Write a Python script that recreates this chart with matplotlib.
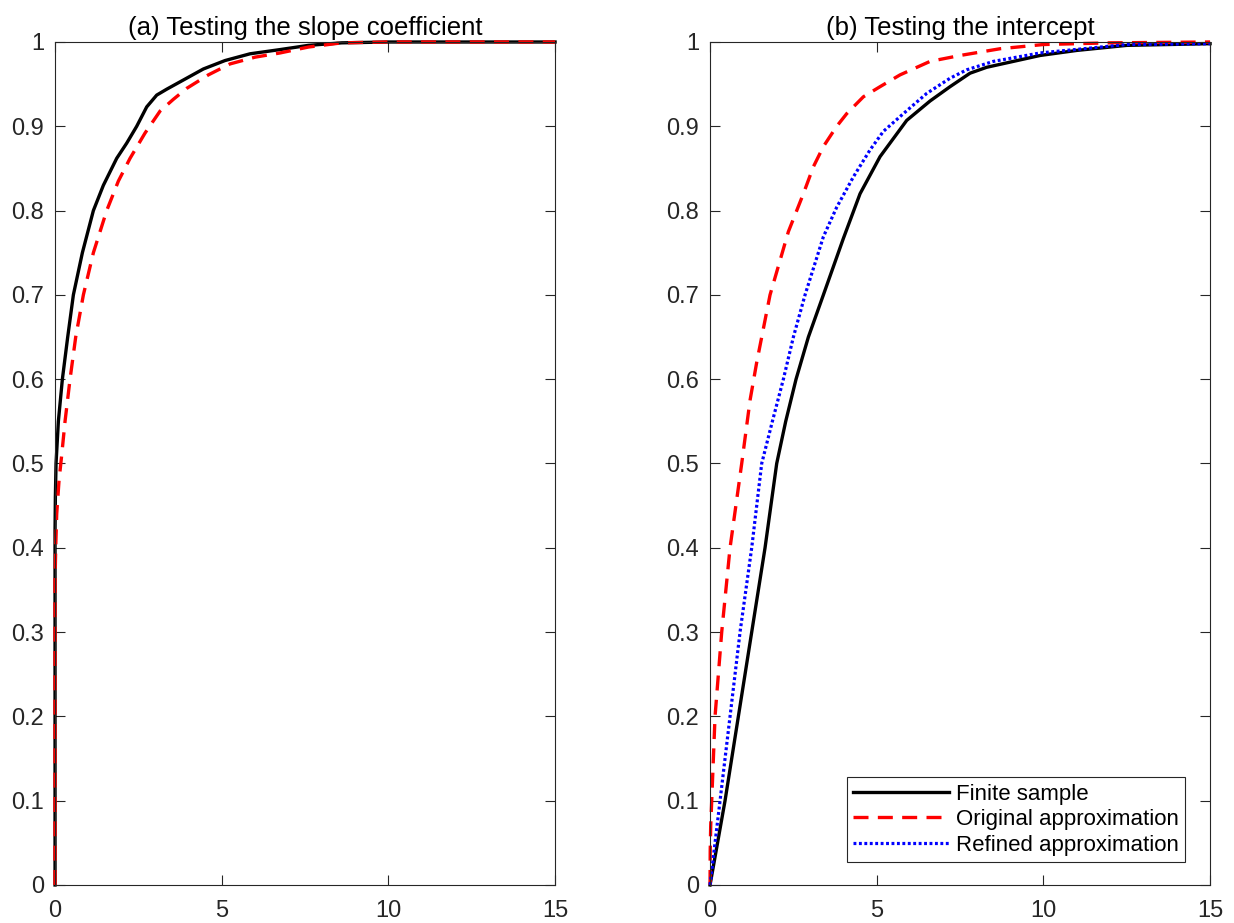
import matplotlib
matplotlib.use('Agg')
import matplotlib.pyplot as plt
import numpy as np

plt.rcParams['font.family'] = ['Liberation Sans', 'DejaVu Sans']

slope_finite_x = [0, 0, 0.01, 0.03, 0.1, 0.22, 0.38, 0.55, 0.82, 1.15, 1.45, 1.85, 2.15,
                  2.45, 2.75, 3.05, 3.35, 3.9, 4.45, 5.1, 5.85, 6.75, 7.6, 8.6, 10.0, 15.0]
slope_finite_y = [0, 0.42, 0.46, 0.5, 0.55, 0.6, 0.65, 0.7, 0.75, 0.8, 0.83, 0.862, 0.88,
                  0.9, 0.923, 0.937, 0.944, 0.956, 0.968, 0.978, 0.986, 0.991, 0.996, 0.999, 1.0, 1.0]
slope_orig_x = [0, 0, 0.02, 0.05, 0.12, 0.2, 0.3, 0.45, 0.62, 0.85, 1.15, 1.55, 1.9,
                2.25, 2.7, 3.15, 3.55, 3.95, 4.6, 5.25, 6.0, 6.75, 7.6, 8.6, 10.0, 15.0]
slope_orig_y = [0, 0.36, 0.4, 0.44, 0.48, 0.51, 0.55, 0.6, 0.65, 0.7, 0.75, 0.8, 0.835,
                0.862, 0.892, 0.918, 0.932, 0.945, 0.961, 0.974, 0.982, 0.987, 0.994, 0.999, 1.0, 1.0]

# (b) intercept
int_finite_x = [0, 0.45, 0.85, 1.25, 1.65, 2.0, 2.27, 2.58, 2.95, 3.4, 4.0, 4.5, 5.1,
                5.9, 6.6, 7.2, 7.8, 8.3, 9.9, 11.0, 12.5, 15.0]
int_finite_y = [0, 0.1, 0.2, 0.3, 0.4, 0.5, 0.55, 0.6, 0.65, 0.7, 0.767, 0.82, 0.864,
                0.907, 0.93, 0.947, 0.963, 0.97, 0.984, 0.99, 0.996, 0.998]
int_orig_x = [0, 0.005, 0.02, 0.05, 0.15, 0.35, 0.6, 0.95, 1.2, 1.4, 1.8, 2.35, 2.8,
              3.1, 3.4, 3.8, 4.1, 4.6, 5.1, 5.7, 6.6, 7.5, 8.7, 10.0, 12.0, 15.0]
int_orig_y = [0, 0.04, 0.07, 0.1, 0.2, 0.3, 0.4, 0.5, 0.575, 0.62, 0.7, 0.775, 0.82,
              0.852, 0.876, 0.9, 0.915, 0.935, 0.947, 0.961, 0.977, 0.984, 0.992, 0.997, 0.999, 1.0]
int_refined_x = [0, 0.3, 0.6, 0.9, 1.25, 1.55, 1.87, 2.2, 2.5, 2.85, 3.4, 3.8, 4.3,
                 4.8, 5.2, 5.8, 6.5, 7.2, 7.7, 8.5, 9.9, 12.5, 15.0]
int_refined_y = [0, 0.1, 0.2, 0.3, 0.4, 0.5, 0.55, 0.6, 0.65, 0.7, 0.769, 0.804, 0.84,
                 0.872, 0.894, 0.915, 0.939, 0.957, 0.967, 0.977, 0.987, 0.997, 0.998]

titles = ['(a) Testing the slope coefficient', '(b) Testing the intercept']
legend_labels = ['Finite sample', 'Original approximation', 'Refined approximation']

fig = plt.figure(figsize=(12.34, 9.23), dpi=100)
ax1 = fig.add_axes([0.0446, 0.0412, 0.4052, 0.9133])
ax2 = fig.add_axes([0.5754, 0.0412, 0.4052, 0.9133])

lw = 2.4
dash = (0, (4.5, 2.8))
dots = (0, (0.9, 0.8))
ax1.plot(slope_finite_x, slope_finite_y, color='black', lw=lw, clip_on=False)
ax1.plot(slope_orig_x, slope_orig_y, color='red', lw=lw, ls=dash, clip_on=False)

ax2.plot(int_finite_x, int_finite_y, color='black', lw=lw, clip_on=False, label=legend_labels[0])
ax2.plot(int_orig_x, int_orig_y, color='red', lw=lw, ls=dash, clip_on=False, label=legend_labels[1])
ax2.plot(int_refined_x, int_refined_y, color='blue', lw=2.3, ls=dots, clip_on=False,
         label=legend_labels[2])

for ax, title in zip([ax1, ax2], titles):
    ax.set_xlim(0, 15)
    ax.set_ylim(0, 1)
    ax.set_xticks([0, 5, 10, 15])
    ax.set_xticklabels(['0', '5', '10', '15'])
    yt = np.round(np.arange(0, 1.01, 0.1), 1)
    ax.set_yticks(yt)
    ax.set_yticklabels(['0'] + [f'{v:g}' for v in yt[1:-1]] + ['1'])
    ax.tick_params(direction='in', length=7, width=0.8, colors='0.15',
                   labelsize=17, top=True, right=True)
    ax.tick_params(axis='x', pad=11)
    ax.tick_params(axis='y', pad=8)
    for sp in ax.spines.values():
        sp.set_color('0.15')
        sp.set_linewidth(0.8)
    ax.set_title(title, fontsize=18.5, pad=5)

leg = ax2.legend(loc='lower right', fontsize=16, handlelength=4.3, handletextpad=0.3,
                 borderpad=0.3, labelspacing=0.2, fancybox=False, framealpha=1,
                 borderaxespad=0, bbox_to_anchor=(0.95, 0.027))
leg.get_frame().set_edgecolor('0.15')
leg.get_frame().set_linewidth(0.8)

fig.savefig('out.png', dpi=100)
